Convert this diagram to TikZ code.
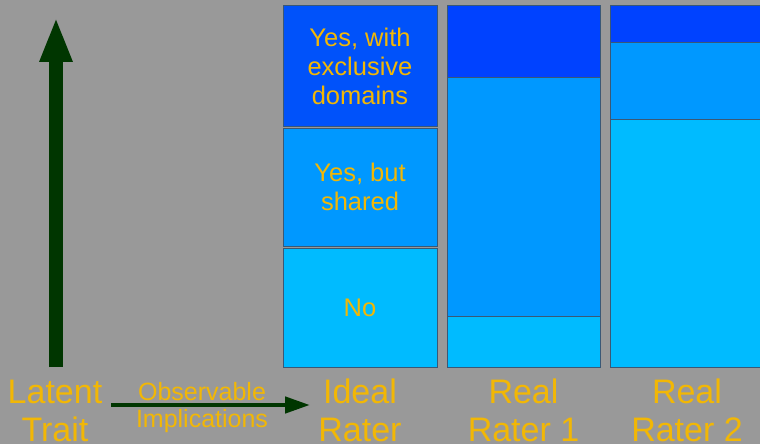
\documentclass[tikz,border=0pt]{standalone}
\usepackage{fontspec}
\setmainfont{Liberation Sans}
\usetikzlibrary{arrows.meta}
\definecolor{backgr}{RGB}{153,153,153}
\definecolor{labgold}{RGB}{242,183,5}
\definecolor{arrgreen}{RGB}{0,54,0}
\definecolor{edgeblue}{RGB}{58,88,118}
\definecolor{idealtop}{RGB}{0,82,250}
\definecolor{topblue}{RGB}{0,66,255}
\definecolor{midblue}{RGB}{0,152,255}
\definecolor{lowblue}{RGB}{0,187,255}
\tikzset{
  seg/.style={draw=edgeblue, line width=1pt, inner sep=0pt, align=center,
    text=labgold, font=\fontsize{25.5}{29}\selectfont},
  biglabel/.style={anchor=base, align=center, text=labgold,
    font=\fontsize{34}{38}\selectfont},
  smalllabel/.style={anchor=base, align=center, text=labgold,
    font=\fontsize{25}{27}\selectfont},
  fatarrow/.style={draw=arrgreen, line width=14pt, -{Triangle[width=30pt,length=45pt]}},
  thinarrow/.style={draw=arrgreen, line width=4.5pt, -{Triangle[width=16pt,length=25pt]}}
}
\begin{document}
\begin{tikzpicture}[x=1pt,y=-1pt]
\fill[backgr] (0,0) rectangle (760,444);
\useasboundingbox (0,0) rectangle (760,444);
% ideal rater
\node[seg,fill=idealtop,minimum width=154pt,minimum height=120pt] (idealTop) at (360,66) {Yes, with\\exclusive\\domains};
\node[seg,fill=midblue,minimum width=154pt,minimum height=118pt] (idealMid) at (360,187) {Yes, but\\shared};
\node[seg,fill=lowblue,minimum width=154pt,minimum height=119pt] (idealLow) at (360,307.5) {No};
% real rater 1
\node[seg,fill=topblue,minimum width=153pt,minimum height=71pt] (oneTop) at (523.5,41.5) {};
\node[seg,fill=midblue,minimum width=153pt,minimum height=239pt] (oneMid) at (523.5,196.5) {};
\node[seg,fill=lowblue,minimum width=153pt,minimum height=51pt] (oneLow) at (523.5,341.5) {};
% real rater 2
\node[seg,fill=topblue,minimum width=154pt,minimum height=37pt] (twoTop) at (687,24.5) {};
\node[seg,fill=midblue,minimum width=154pt,minimum height=76pt] (twoMid) at (687,81) {};
\node[seg,fill=lowblue,minimum width=154pt,minimum height=248pt] (twoLow) at (687,243) {};
% labels (base = last line)
\node[biglabel] (latent) at (55,441) {Latent\\Trait};
\node[smalllabel] (observ) at (202,427) {Observable\\Implications};
\node[biglabel] (ideal) at (360,441) {Ideal\\Rater};
\node[biglabel] (realOne) at (523.5,441) {Real\\Rater 1};
\node[biglabel] (realTwo) at (687,441) {Real\\Rater 2};
% arrows
\coordinate (traitBase) at (56,367);
\coordinate (traitTip) at (56,17);
\coordinate (implStart) at (111,405);
\coordinate (implEnd) at (310,405);
\draw[fatarrow] (traitBase) -- (traitTip);
\draw[thinarrow] (implStart) -- (implEnd);
\end{tikzpicture}
\end{document}
